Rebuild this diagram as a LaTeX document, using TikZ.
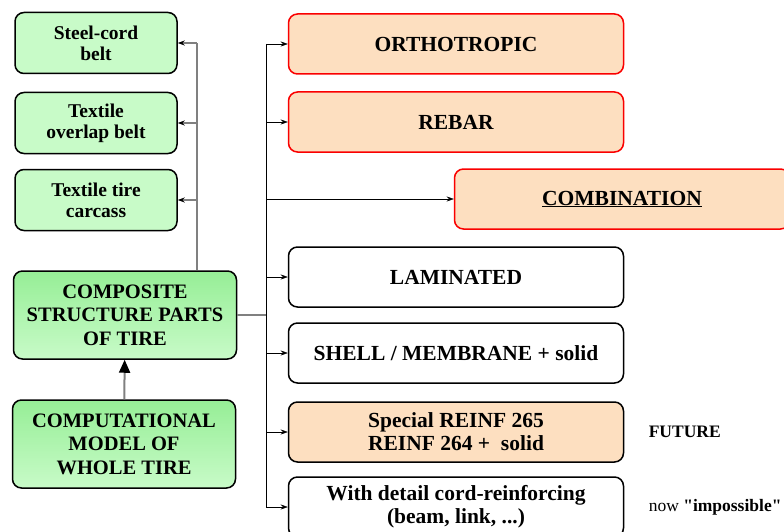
\documentclass[tikz,border=0pt]{standalone}
\usepackage{fontspec}
\setmainfont{Liberation Serif}
\newfontfamily\tirefont{Liberation Serif}
\usetikzlibrary{arrows.meta,positioning}

\definecolor{leafgreen}{RGB}{200,251,200}
\definecolor{deepgreen}{RGB}{150,238,150}
\definecolor{paleorange}{RGB}{253,223,192}
\definecolor{boxred}{RGB}{250,0,0}

\begin{document}
\begin{tikzpicture}[x=1pt, y=-1pt, >=Stealth, font=\tirefont\bfseries,
    part/.style={draw, line width=1.5pt, rounded corners=9pt, align=center, inner sep=2pt,
      fill=leafgreen, minimum width=162pt, minimum height=61pt,
      font=\tirefont\bfseries\fontsize{19.5}{21}\selectfont},
    main/.style={part, minimum width=223pt, minimum height=88pt,
      top color=deepgreen, bottom color=leafgreen,
      font=\tirefont\bfseries\fontsize{20.5}{23.5}\selectfont},
    kind/.style={draw, line width=1.5pt, rounded corners=9pt, align=center, inner sep=2pt,
      minimum width=335pt, minimum height=60pt,
      font=\tirefont\bfseries\fontsize{21.5}{23}\selectfont},
    hot/.style={kind, draw=boxred, fill=paleorange},
    note/.style={font=\tirefont\bfseries\fontsize{17.5}{20}\selectfont},
    tip/.style={-{Stealth[length=7pt,width=5pt]}}]
  \useasboundingbox (0,0) rectangle (784,532);

  % left column
  \node[part] (steel) at (96,43) {Steel-cord\\belt};
  \node[part] (overlap) at (96,123) {Textile\\overlap belt};
  \node[part] (carcass) at (96,200) {Textile tire\\carcass};
  \node[main] (comp) at (125,315) {COMPOSITE\\STRUCTURE PARTS\\OF TIRE};
  \node[main] (whole) at (124,444) {COMPUTATIONAL\\MODEL OF\\WHOLE TIRE};

  % right column
  \node[hot] (ortho) at (456,44) {ORTHOTROPIC};
  \node[hot] (rebar) at (456,122) {REBAR};
  \node[hot] (combi) at (622,199) {\underline{COMBINATION}};
  \node[kind] (lamin) at (456,277) {LAMINATED};
  \node[kind] (shell) at (456,353) {SHELL / MEMBRANE + solid};
  \node[hot, draw=black] (reinf) at (456,432) {Special REINF 265\\REINF 264 +~~solid};
  \node[kind] (detail) at (456,507) {With detail cord-reinforcing\\(beam, link, ...)};

  \node[note, right=21pt of reinf] (future) {FUTURE};
  \node[note, right=21pt of detail] (now) {\mdseries now \bfseries{\char34}impossible{\char34}};

  % connectors
  \coordinate (lt) at (197,43);
  \coordinate (rt) at (266,315);
  \draw[gray, line width=1.5pt] (comp.north -| lt) -- (lt);
  \foreach \n in {steel,overlap,carcass}
    \draw[gray, line width=1.2pt, -{Stealth[color=black,length=7pt,width=5pt]}] (lt |- \n.east) -- (\n.east);
  \draw[gray, line width=2pt, -{Triangle[color=black,length=13pt,width=11pt]}] (whole) -- (comp);

  \draw[gray, line width=1.5pt] (comp.east) -- (rt);
  \draw (rt |- ortho) -- (rt |- detail);
  \foreach \n in {ortho,rebar,combi,lamin,shell,reinf,detail}
    \draw[tip] (rt |- \n.west) -- (\n.west);
\end{tikzpicture}
\end{document}
